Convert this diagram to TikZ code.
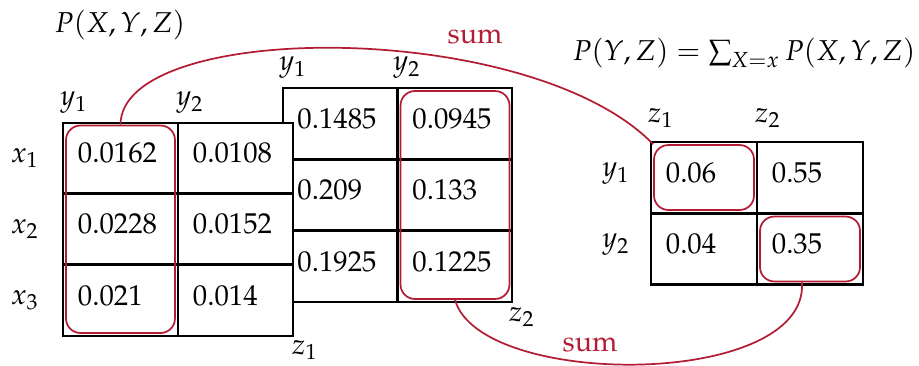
\documentclass[tikz,border=0pt]{standalone}
\usepackage[T1]{fontenc}
\usepackage{mathpazo}
\usetikzlibrary{fit}
\definecolor{sumred}{RGB}{178,28,52}

\tikzset{
  cell/.style={draw,fill=white,line width=0.7pt,minimum height=24.7pt,
    text width=29.6pt,text depth=3.5pt,inner xsep=5.2pt,align=left},
  smallcell/.style={cell,text width=26.5pt},
  sumbox/.style={draw=sumred,line width=0.6pt,rounded corners=5pt,inner sep=-1.4pt},
  sumline/.style={sumred,line width=0.6pt},
}

\begin{document}
\begin{tikzpicture}[x=0.348pt,y=-0.348pt]
  \useasboundingbox (0,0) rectangle (919,365);
  % table for z_2 (behind)
  \node[cell] (b11) at (340,123.5) {0.1485};
  \node[cell] (b12) at (455,123.5) {0.0945};
  \node[cell] (b21) at (340,195) {0.209};
  \node[cell] (b22) at (455,195) {0.133};
  \node[cell] (b31) at (340,266.5) {0.1925};
  \node[cell] (b32) at (455,266.5) {0.1225};
  \node (by1) at (293,68) {$y_1$};
  \node (by2) at (407,68) {$y_2$};
  \node (bz2) at (522,317) {$z_2$};
  % table for z_1 (front)
  \node[cell] (f11) at (120.5,158) {0.0162};
  \node[cell] (f12) at (235.5,158) {0.0108};
  \node[cell] (f21) at (120.5,229) {0.0228};
  \node[cell] (f22) at (235.5,229) {0.0152};
  \node[cell] (f31) at (120.5,300.5) {0.021};
  \node[cell] (f32) at (235.5,300.5) {0.014};
  \node (fy1) at (74,103) {$y_1$};
  \node (fy2) at (190,103) {$y_2$};
  \node (fx1) at (25,158) {$x_1$};
  \node (fx2) at (25,229) {$x_2$};
  \node (fx3) at (25,300) {$x_3$};
  \node (fz1) at (305,350) {$z_1$};
  \node (title) at (120,25) {$P(X,Y,Z)$};
  % marginal table
  \node[smallcell] (r11) at (704,177.5) {0.06};
  \node[smallcell] (r12) at (810,177.5) {0.55};
  \node[smallcell] (r21) at (704,249) {0.04};
  \node[smallcell] (r22) at (810,249) {0.35};
  \node (rz1) at (661,118) {$z_1$};
  \node (rz2) at (768,118) {$z_2$};
  \node (ry1) at (616,174) {$y_1$};
  \node (ry2) at (616,245) {$y_2$};
  \node (formula) at (744,53) {$P(Y,Z) = \sum_{X=x} P(X,Y,Z)$};
  % sums
  \node[sumbox,fit=(f11)(f31)] (fsum) {};
  \node[sumbox,fit=(b12)(b32)] (bsum) {};
  \node[sumbox,fit=(r11)] (rsum1) {};
  \node[sumbox,fit=(r22)] (rsum2) {};
  \draw[sumline] (fsum.north) .. controls (121,20) and (530,18) .. (rsum1.north west);
  \draw[sumline] (bsum.south) .. controls (480,389) and (809,389) .. ([xshift=-2.8pt]rsum2.south);
  \node[sumred] (sum1) at (475,37) {sum};
  \node[sumred] (sum2) at (590,345) {sum};
\end{tikzpicture}
\end{document}
